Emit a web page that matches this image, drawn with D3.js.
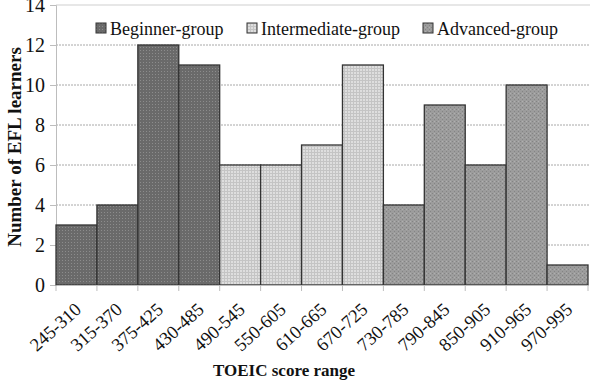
<!DOCTYPE html>
<html>
<head>
<meta charset="utf-8">
<script src="https://cdn.jsdelivr.net/npm/d3@7"></script>
<style>
  body { margin: 0; background: #fff; }
  text { font-family: "Liberation Serif", "Times New Roman", serif; fill: #111; }
  .axis-title { font-weight: bold; }
</style>
</head>
<body>
<svg width="592" height="382"></svg>
<script>
  const ranges = ["245-310", "315-370", "375-425", "430-485", "490-545", "550-605",
    "610-665", "670-725", "730-785", "790-845", "850-905", "910-965", "970-995"];
  const learners = [3, 4, 12, 11, 6, 6, 7, 11, 4, 9, 6, 10, 1];
  const groupOf = ["Beginner-group", "Beginner-group", "Beginner-group", "Beginner-group",
    "Intermediate-group", "Intermediate-group", "Intermediate-group", "Intermediate-group",
    "Advanced-group", "Advanced-group", "Advanced-group", "Advanced-group", "Advanced-group"];
  const groups = ["Beginner-group", "Intermediate-group", "Advanced-group"];
  const yTicks = [0, 2, 4, 6, 8, 10, 12, 14];

  const svg = d3.select("svg");
  const margin = { top: 5, right: 4, bottom: 97, left: 56 };
  const height = +svg.attr("height");
  const innerWidth = 588 - margin.left;
  const innerHeight = height - margin.top - margin.bottom;

  // fill patterns
  const defs = svg.append("defs");
  const pBeg = defs.append("pattern").attr("id", "p0").attr("patternUnits", "userSpaceOnUse")
    .attr("width", 3).attr("height", 3);
  pBeg.append("rect").attr("width", 3).attr("height", 3).attr("fill", "#6a6a6a");
  pBeg.append("rect").attr("width", 1).attr("height", 1).attr("fill", "#8c8c8c");
  const pInt = defs.append("pattern").attr("id", "p1").attr("patternUnits", "userSpaceOnUse")
    .attr("width", 3).attr("height", 3);
  pInt.append("rect").attr("width", 3).attr("height", 3).attr("fill", "#dedede");
  pInt.append("rect").attr("width", 3).attr("height", 1).attr("fill", "#c4c4c4");
  pInt.append("rect").attr("width", 1).attr("height", 3).attr("fill", "#c4c4c4");
  const pAdv = defs.append("pattern").attr("id", "p2").attr("patternUnits", "userSpaceOnUse")
    .attr("width", 4).attr("height", 4);
  pAdv.append("rect").attr("width", 4).attr("height", 4).attr("fill", "#9c9c9c");
  pAdv.append("rect").attr("x", 0).attr("y", 0).attr("width", 1).attr("height", 1).attr("fill", "#848484");
  pAdv.append("rect").attr("x", 2).attr("y", 2).attr("width", 1).attr("height", 1).attr("fill", "#848484");
  pAdv.append("rect").attr("x", 2).attr("y", 0).attr("width", 1).attr("height", 1).attr("fill", "#b0b0b0");

  const color = d3.scaleOrdinal().domain(groups).range(["url(#p0)", "url(#p1)", "url(#p2)"]);

  const xScale = d3.scaleBand().domain(ranges).range([0, innerWidth]).padding(0);
  const yScale = d3.scaleLinear().domain([0, 14]).range([innerHeight, 0]);

  const g = svg.append("g").attr("transform", `translate(${margin.left}, ${margin.top})`);

  // gridlines
  g.append("g").selectAll("line").data(yTicks.filter(d => d > 0)).enter().append("line")
    .attr("x1", 0).attr("x2", innerWidth + 2)
    .attr("y1", d => yScale(d)).attr("y2", d => yScale(d))
    .attr("stroke", d => d === 14 ? "#cfcfcf" : "#a8a8a8")
    .attr("stroke-dasharray", d => d === 14 ? null : "2,1")
    .attr("stroke-width", 1);

  // y axis
  const yAxisG = g.append("g").call(d3.axisLeft(yScale).tickValues(yTicks).tickSize(6).tickPadding(5));
  yAxisG.attr("font-size", null).attr("font-family", null);
  yAxisG.select(".domain").attr("stroke", "#bdbdbd");
  yAxisG.selectAll(".tick line").attr("stroke", "#bdbdbd");
  yAxisG.selectAll(".tick text").style("font-size", "20px").attr("fill", "#111");

  // bars
  g.selectAll("rect.bar").data(learners).enter().append("rect")
    .attr("class", "bar")
    .attr("x", (d, i) => xScale(ranges[i]))
    .attr("y", d => yScale(d))
    .attr("width", xScale.bandwidth())
    .attr("height", d => innerHeight - yScale(d))
    .attr("fill", (d, i) => color(groupOf[i]))
    .attr("stroke", "#333")
    .attr("stroke-width", 1.3);

  // x axis
  const xAxisG = g.append("g").attr("transform", `translate(0, ${innerHeight})`)
    .call(d3.axisBottom(xScale).tickSize(0).tickPadding(0));
  xAxisG.attr("font-size", null).attr("font-family", null);
  xAxisG.select(".domain").attr("stroke", "#bdbdbd");
  xAxisG.selectAll(".tick text")
    .style("font-size", "18.5px").attr("fill", "#111")
    .attr("text-anchor", "end")
    .attr("y", 0).attr("dy", 0)
    .attr("transform", "translate(6, 26) rotate(-42)");
  // boundary ticks
  xAxisG.append("g").selectAll("line").data(d3.range(ranges.length + 1)).enter().append("line")
    .attr("x1", i => i * xScale.step()).attr("x2", i => i * xScale.step())
    .attr("y1", 0).attr("y2", 6).attr("stroke", "#bdbdbd");

  // axis titles
  svg.append("text").attr("class", "axis-title").style("font-size", "17px")
    .attr("x", 284).attr("y", 376).attr("text-anchor", "middle").text("TOEIC score range");
  svg.append("text").attr("class", "axis-title").style("font-size", "19px")
    .attr("transform", "translate(21, 147) rotate(-90)")
    .attr("text-anchor", "middle").text("Number of EFL learners");

  // legend
  const legendX = [96, 247, 423];
  const legend = svg.append("g").selectAll("g").data(groups).enter().append("g")
    .attr("transform", (d, i) => `translate(${legendX[i]}, 23)`);
  legend.append("rect").attr("width", 10).attr("height", 10)
    .attr("fill", d => color(d)).attr("stroke", "#333").attr("stroke-width", 1);
  legend.append("text").attr("x", 14).attr("y", 12).style("font-size", "18px").text(d => d);
</script>
</body>
</html>
